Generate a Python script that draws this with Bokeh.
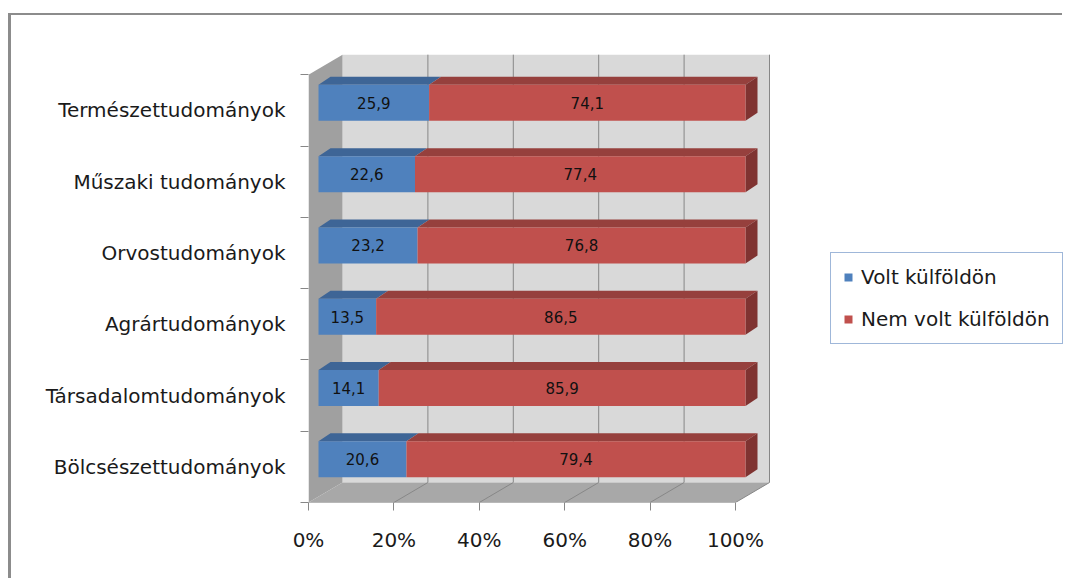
from bokeh.plotting import figure
from bokeh.models import FixedTicker, Legend, LegendItem, Range1d
from bokeh.core.properties import value
from bokeh.embed import file_html
from bokeh.resources import INLINE

# ---------------- data ----------------
categories = ["Bölcsészettudományok", "Társadalomtudományok", "Agrártudományok",
              "Orvostudományok", "Műszaki tudományok", "Természettudományok"]
volt = [20.6, 14.1, 13.5, 23.2, 22.6, 25.9]
nem_volt = [79.4, 85.9, 86.5, 76.8, 77.4, 74.1]
series_names = ["Volt külföldön", "Nem volt külföldön"]
x_ticks = [0, 20, 40, 60, 80, 100]
x_tick_labels = ["0%", "20%", "40%", "60%", "80%", "100%"]

# ---------------- layout / style constants ----------------
W, H = 1054, 565
FL, FB, FT = 297, 78, 5            # frame left / bottom / top borders (px)
XS = 4.27                           # px per percent
YS = 71.3                           # px per category band
FONT = "DejaVu Sans"

WDX, WDY = 34 / XS, 20 / YS         # wall depth
BX, BY = 10 / XS, 7.5 / YS          # bar front-face offset
BDX, BDY = 12 / XS, 8 / YS          # bar depth
BH = 18 / YS                        # bar half height

BLUE, BLUE_TOP = "#4f81bd", "#3e6596"
RED, RED_TOP, RED_SIDE = "#c0504d", "#96403d", "#7f3331"
WALL, FLOOR, BACK, GRID = "#a0a0a0", "#a8a8a8", "#d9d9d9", "#878787"

n = len(categories)
x_end = (W - FL) / XS
y_end = (H - FB - FT) / YS

p = figure(width=W, height=H, output_backend="svg", toolbar_location=None,
           x_range=Range1d(0, x_end), y_range=Range1d(0, y_end),
           min_border_left=FL, min_border_right=0, min_border_bottom=FB,
           min_border_top=FT, outline_line_color=None,
           background_fill_color="white", border_fill_color="white")
p.styles = {"border-top": "2px solid #8c8c8c", "border-left": "3px solid #8c8c8c",
            "margin-top": "13px", "margin-left": "8px"}
p.xgrid.visible = False
p.ygrid.visible = False

# ---------------- walls ----------------
p.quad(left=[WDX], right=[x_ticks[-1] + WDX], bottom=[WDY], top=[n + WDY],
       fill_color=BACK, line_color=None)
grid_x = [t + WDX for t in x_ticks[1:]]
p.segment(x0=grid_x, y0=[WDY] * len(grid_x), x1=grid_x, y1=[n + WDY] * len(grid_x),
          line_color=GRID, line_width=1)
p.patch(x=[0, x_ticks[-1], x_ticks[-1] + WDX, WDX], y=[0, 0, WDY, WDY],
        fill_color=FLOOR, line_color=None)
p.segment(x0=x_ticks[1:], y0=[0] * (len(x_ticks) - 1),
          x1=[t + WDX for t in x_ticks[1:]], y1=[WDY] * (len(x_ticks) - 1),
          line_color=GRID, line_width=1)
p.patch(x=[0, WDX, WDX, 0], y=[0, WDY, n + WDY, n], fill_color=WALL, line_color=None)
p.segment(x0=[0], y0=[0], x1=[x_ticks[-1]], y1=[0], line_color=GRID, line_width=1)

# ---------------- bars ----------------
def seg_source(lefts, rights):
    yc = [i + 0.5 + BY for i in range(n)]
    bottoms = [y - BH for y in yc]
    tops = [y + BH for y in yc]
    top_xs = [[l, r, r + BDX, l + BDX] for l, r in zip(lefts, rights)]
    top_ys = [[t, t, t + BDY, t + BDY] for t in tops]
    return dict(left=lefts, right=rights, bottom=bottoms, top=tops,
                txs=top_xs, tys=top_ys, xc=[(l + r) / 2 for l, r in zip(lefts, rights)], yc=yc)

b_left = [BX] * n
b_right = [BX + v for v in volt]
r_left = b_right
r_right = [BX + v + w for v, w in zip(volt, nem_volt)]

sb = seg_source(b_left, b_right)
sr = seg_source(r_left, r_right)

p.patches(xs=sb["txs"], ys=sb["tys"], fill_color=BLUE_TOP, line_color=None)
p.patches(xs=sr["txs"], ys=sr["tys"], fill_color=RED_TOP, line_color=None)
side_xs = [[r, r, r + BDX, r + BDX] for r in r_right]
side_ys = [[b, t, t + BDY, b + BDY] for b, t in zip(sr["bottom"], sr["top"])]
p.patches(xs=side_xs, ys=side_ys, fill_color=RED_SIDE, line_color=None)

rb = p.quad(left=sb["left"], right=sb["right"], bottom=sb["bottom"], top=sb["top"],
            fill_color=BLUE, line_color=None)
rr = p.quad(left=sr["left"], right=sr["right"], bottom=sr["bottom"], top=sr["top"],
            fill_color=RED, line_color=None)

def fmt(v):
    return f"{v:.1f}".replace(".", ",")

p.text(x=sb["xc"] + sr["xc"], y=sb["yc"] + sr["yc"],
       text=[fmt(v) for v in volt] + [fmt(v) for v in nem_volt],
       text_align="center", text_baseline="middle", text_color="#111111",
       text_font=value(FONT), text_font_size="15px")

# ---------------- axes ----------------
xa = p.xaxis[0]
xa.ticker = FixedTicker(ticks=x_ticks)
xa.major_label_overrides = dict(zip(x_ticks, x_tick_labels))
xa.axis_line_color = None
xa.major_tick_out = 8
xa.major_tick_in = 0
xa.major_tick_line_color = GRID
xa.minor_tick_line_color = None
xa.major_label_standoff = 17
xa.major_label_text_font = FONT
xa.major_label_text_font_size = "20px"
xa.major_label_text_color = "#1a1a1a"

ya = p.yaxis[0]
centers = [i + 0.5 for i in range(n)]
ya.ticker = FixedTicker(ticks=centers, minor_ticks=list(range(n + 1)))
ya.major_label_overrides = dict(zip(centers, categories))
ya.axis_line_color = None
ya.major_tick_out = 0
ya.major_tick_in = 0
ya.minor_tick_out = 8
ya.minor_tick_in = 0
ya.minor_tick_line_color = GRID
ya.major_label_standoff = 15
ya.major_label_text_font = FONT
ya.major_label_text_font_size = "20px"
ya.major_label_text_color = "#1a1a1a"

# ---------------- legend ----------------
legend = Legend(items=[LegendItem(label=series_names[0], renderers=[rb]),
                       LegendItem(label=series_names[1], renderers=[rr])],
                location=(522, 158), margin=0, padding=12, spacing=18,
                label_height=22, glyph_height=10, glyph_width=10, label_standoff=8,
                label_text_font=FONT, label_text_font_size="20px",
                label_text_color="#1a1a1a", border_line_color="#3f70b3",
                border_line_width=1, background_fill_color="white",
                background_fill_alpha=1.0)
p.add_layout(legend)

open("out.html", "w").write(file_html(p, INLINE))
